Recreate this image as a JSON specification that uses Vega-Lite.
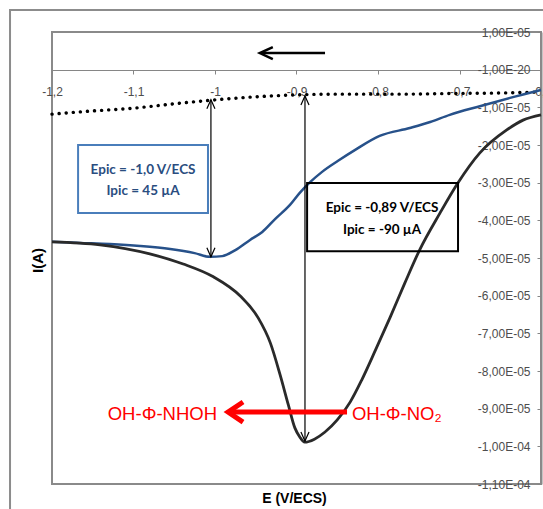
{
  "$schema": "https://vega.github.io/schema/vega-lite/v6.json",
  "width": 489,
  "height": 452,
  "autosize": "none",
  "padding": {"left": 52, "top": 32, "right": 2, "bottom": 25},
  "background": "white",
  "config": {
    "locale": {"number": {"decimal": ",", "thousands": " ", "grouping": [3], "currency": ["", " €"], "minus": "-"}},
    "view": {"stroke": "#8a8a8a", "strokeWidth": 2},
    "axis": {"grid": false, "labelFont": "Liberation Sans", "titleFont": "Liberation Sans"}
  },
  "datasets": {
    "frame": [{"E": -1.2515, "E2": -0.5, "I": 1.584e-5, "I2": -1.5e-4}],
    "dotted": [
      {"E": -1.2, "I": -1.18e-5}, {"E": -1.153, "I": -1.10e-5}, {"E": -1.099, "I": -1.02e-5},
      {"E": -1.043, "I": -0.89e-5}, {"E": -1.004, "I": -0.81e-5}, {"E": -0.957, "I": -0.73e-5},
      {"E": -0.901, "I": -0.67e-5}, {"E": -0.847, "I": -0.65e-5}, {"E": -0.773, "I": -0.65e-5},
      {"E": -0.699, "I": -0.63e-5}, {"E": -0.65, "I": -0.62e-5}, {"E": -0.6, "I": -0.59e-5}
    ],
    "blue": [
      {"E": -1.2, "I": -4.57e-5}, {"E": -1.166, "I": -4.60e-5}, {"E": -1.129, "I": -4.63e-5},
      {"E": -1.092, "I": -4.68e-5}, {"E": -1.055, "I": -4.76e-5}, {"E": -1.025, "I": -4.87e-5},
      {"E": -1.006, "I": -4.97e-5}, {"E": -0.991, "I": -4.95e-5}, {"E": -0.975, "I": -4.79e-5},
      {"E": -0.957, "I": -4.52e-5}, {"E": -0.942, "I": -4.31e-5}, {"E": -0.926, "I": -3.96e-5},
      {"E": -0.908, "I": -3.59e-5}, {"E": -0.896, "I": -3.27e-5}, {"E": -0.883, "I": -2.98e-5},
      {"E": -0.869, "I": -2.72e-5}, {"E": -0.849, "I": -2.42e-5}, {"E": -0.828, "I": -2.13e-5},
      {"E": -0.798, "I": -1.76e-5}, {"E": -0.761, "I": -1.55e-5}, {"E": -0.736, "I": -1.39e-5},
      {"E": -0.712, "I": -1.20e-5}, {"E": -0.675, "I": -0.97e-5}, {"E": -0.638, "I": -0.75e-5},
      {"E": -0.6, "I": -0.54e-5}
    ],
    "black": [
      {"E": -1.2, "I": -4.57e-5}, {"E": -1.141, "I": -4.65e-5}, {"E": -1.08, "I": -4.89e-5},
      {"E": -1.039, "I": -5.16e-5}, {"E": -1.002, "I": -5.50e-5}, {"E": -0.969, "I": -6.01e-5},
      {"E": -0.947, "I": -6.59e-5}, {"E": -0.932, "I": -7.26e-5}, {"E": -0.92, "I": -8.11e-5},
      {"E": -0.91, "I": -8.90e-5}, {"E": -0.902, "I": -9.51e-5}, {"E": -0.896, "I": -9.75e-5},
      {"E": -0.89, "I": -9.89e-5}, {"E": -0.878, "I": -9.81e-5}, {"E": -0.865, "I": -9.62e-5},
      {"E": -0.85, "I": -9.30e-5}, {"E": -0.834, "I": -8.82e-5}, {"E": -0.82, "I": -8.24e-5},
      {"E": -0.803, "I": -7.44e-5}, {"E": -0.785, "I": -6.57e-5}, {"E": -0.767, "I": -5.66e-5},
      {"E": -0.749, "I": -4.79e-5}, {"E": -0.724, "I": -3.81e-5}, {"E": -0.702, "I": -3.01e-5},
      {"E": -0.675, "I": -2.21e-5}, {"E": -0.642, "I": -1.60e-5}, {"E": -0.622, "I": -1.34e-5},
      {"E": -0.6, "I": -1.20e-5}
    ],
    "box_blue": [{"E": -1.168, "E2": -1.0086, "I": -2.0e-5, "I2": -3.805e-5}],
    "box_black": [{"E": -0.887, "E2": -0.7018, "I": -3.01e-5, "I2": -4.82e-5}],
    "txt_blue": [{"E": -1.0883, "I": -2.67e-5, "label": "Epic = -1,0 V/ECS"}, {"E": -1.0883, "I": -3.23e-5, "label": "Ipic = 45 µA"}],
    "txt_black": [{"E": -0.795, "I": -3.68e-5, "label": "Epic = -0,89 V/ECS"}, {"E": -0.795, "I": -4.26e-5, "label": "Ipic = -90 µA"}],
    "vrules": [{"E": -1.005, "I": -0.80e-5, "I2": -4.97e-5}, {"E": -0.8896, "I": -0.70e-5, "I2": -9.86e-5}],
    "heads_up": [{"E": -1.005, "I": -0.80e-5}, {"E": -0.8896, "I": -0.70e-5}],
    "heads_down": [{"E": -1.005, "I": -4.97e-5}, {"E": -0.8896, "I": -9.86e-5}],
    "red_rule": [{"E": -0.979, "E2": -0.838, "I": -9.09e-5}],
    "red_head": [{"E": -0.984, "I": -9.09e-5}],
    "red_left": [{"E": -0.9975, "I": -9.15e-5, "label": "OH-Φ-NHOH"}],
    "red_right": [{"E": -0.832, "I": -9.15e-5, "label": "OH-Φ-NO₂"}],
    "top_rule": [{"E": -0.943, "E2": -0.865, "I": 0.44e-5}],
    "top_head": [{"E": -0.945, "I": 0.44e-5}]
  },
  "encoding": {
    "x": {
      "field": "E", "type": "quantitative",
      "scale": {"domain": [-1.2, -0.6], "nice": false, "zero": false},
      "axis": {
        "orient": "bottom", "offset": -414,
        "title": "E (V/ECS)", "titleX": 242, "titleY": 428, "titleFontSize": 14, "titleFontWeight": "bold",
        "titleColor": "black", "titleBaseline": "middle", "titleAlign": "center",
        "values": [-1.2, -1.1, -1, -0.9, -0.8, -0.7, -0.6],
        "labelExpr": "format(datum.value, '~g')",
        "labelFontSize": 12, "labelColor": "#4d4d4d", "labelPadding": 12, "labelBaseline": "top",
        "labelFlush": false, "labelOverlap": false, "labelBound": false,
        "tickSize": 4, "tickColor": "#868686", "domainColor": "#868686", "domainWidth": 1
      }
    },
    "y": {
      "field": "I", "type": "quantitative",
      "scale": {"domain": [-1.1e-4, 1e-5], "nice": false, "zero": false},
      "axis": {
        "orient": "right",
        "title": "I(A)", "titleX": -504, "titleY": 228, "titleAngle": -90, "titleAlign": "center",
        "titleBaseline": "middle", "titleFontSize": 15, "titleFontWeight": "bold", "titleColor": "black",
        "values": [1e-5, 0, -1e-5, -2e-5, -3e-5, -4e-5, -5e-5, -6e-5, -7e-5, -8e-5, -9e-5, -1e-4, -1.1e-4],
        "labelExpr": "datum.value == 0 ? '-1,00E-20' : replace(replace(format(datum.value, '.2e'), 'e-', 'E-0'), 'e+', 'E+0')",
        "labelAlign": "right", "labelBaseline": "middle", "labelPadding": -7,
        "labelFontSize": 12, "labelColor": "#4d4d4d",
        "labelFlush": false, "labelOverlap": false, "labelBound": false,
        "tickSize": -4, "tickColor": "#868686", "domainColor": "#8a8a8a", "domainWidth": 2
      }
    }
  },
  "layer": [
    {"data": {"name": "frame"}, "mark": {"type": "rect", "fill": "white", "fillOpacity": 0, "stroke": "#8c8c8c", "strokeWidth": 2}, "encoding": {"x2": {"field": "E2"}, "y2": {"field": "I2"}}},
    {"data": {"name": "dotted"}, "mark": {"type": "line", "color": "black", "strokeWidth": 3.4, "strokeDash": [0.1, 7], "strokeCap": "round", "interpolate": "monotone"}},
    {"data": {"name": "blue"}, "mark": {"type": "line", "color": "#27518a", "strokeWidth": 2.5, "interpolate": "monotone"}},
    {"data": {"name": "black"}, "mark": {"type": "line", "color": "#2a2a2a", "strokeWidth": 2.8, "interpolate": "monotone"}},
    {"data": {"name": "box_blue"}, "mark": {"type": "rect", "fill": "white", "fillOpacity": 0, "stroke": "#4a7ebb", "strokeWidth": 2}, "encoding": {"x2": {"field": "E2"}, "y2": {"field": "I2"}}},
    {"data": {"name": "box_black"}, "mark": {"type": "rect", "fill": "white", "fillOpacity": 0, "stroke": "black", "strokeWidth": 2}, "encoding": {"x2": {"field": "E2"}, "y2": {"field": "I2"}}},
    {"data": {"name": "txt_blue"}, "mark": {"type": "text", "font": "Lato", "fontWeight": "bold", "fontSize": 13.5, "color": "#2a4d7f", "align": "center", "baseline": "middle"}, "encoding": {"text": {"field": "label"}}},
    {"data": {"name": "txt_black"}, "mark": {"type": "text", "font": "Lato", "fontWeight": "bold", "fontSize": 13.5, "color": "black", "align": "center", "baseline": "middle"}, "encoding": {"text": {"field": "label"}}},
    {"data": {"name": "vrules"}, "mark": {"type": "rule", "color": "black", "strokeWidth": 1.2}, "encoding": {"y2": {"field": "I2"}}},
    {"data": {"name": "heads_up"}, "mark": {"type": "point", "shape": "M-0.45,1L0,0L0.45,1", "size": 324, "filled": false, "stroke": "black", "strokeWidth": 1.2, "opacity": 1}},
    {"data": {"name": "heads_down"}, "mark": {"type": "point", "shape": "M-0.45,-1L0,0L0.45,-1", "size": 324, "filled": false, "stroke": "black", "strokeWidth": 1.2, "opacity": 1}},
    {"data": {"name": "red_rule"}, "mark": {"type": "rule", "color": "#ff0000", "strokeWidth": 5}, "encoding": {"x2": {"field": "E2"}}},
    {"data": {"name": "red_head"}, "mark": {"type": "point", "shape": "M1,-0.67L0,0L1,0.67", "size": 900, "filled": false, "stroke": "#ff0000", "strokeWidth": 5, "strokeJoin": "miter", "opacity": 1}},
    {"data": {"name": "red_left"}, "mark": {"type": "text", "font": "Liberation Sans", "fontSize": 18.5, "color": "#ff0000", "align": "right", "baseline": "middle"}, "encoding": {"text": {"field": "label"}}},
    {"data": {"name": "red_right"}, "mark": {"type": "text", "font": "Liberation Sans", "fontSize": 18.5, "color": "#ff0000", "align": "left", "baseline": "middle"}, "encoding": {"text": {"field": "label"}}},
    {"data": {"name": "top_rule"}, "mark": {"type": "rule", "color": "black", "strokeWidth": 2.5}, "encoding": {"x2": {"field": "E2"}}},
    {"data": {"name": "top_head"}, "mark": {"type": "point", "shape": "M1,-0.46L0,0L1,0.46", "size": 676, "filled": false, "stroke": "black", "strokeWidth": 2.5, "opacity": 1}}
  ]
}
